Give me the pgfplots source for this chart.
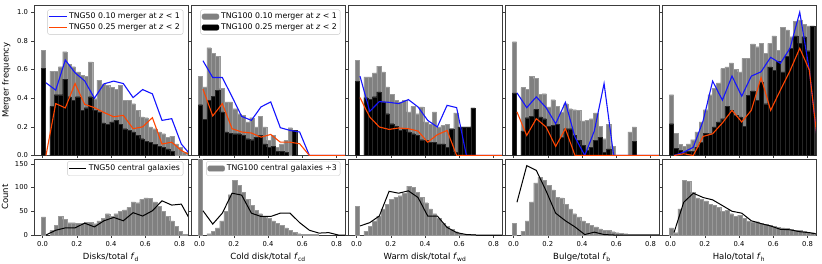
\documentclass[border=0pt]{standalone}
\usepackage{fontspec}
\setmainfont{DejaVu Sans}
\usepackage{pgfplots}
\usepackage{pgfplotstable}
\pgfplotsset{compat=1.18}
\definecolor{mblue}{RGB}{20,20,255}
\definecolor{morange}{RGB}{255,69,0}
\definecolor{mgray}{RGB}{128,128,128}
\definecolor{frm}{RGB}{60,60,60}

% histogram tables: x (bin centre), G = TNG100 0.10 merger freq, B = TNG100 0.25 merger freq, H = TNG100 count
\pgfplotstableread{
x G B H
0.005 0.736 0.607 38
0.030 nan nan nan
0.055 0.589 0.343 10
0.080 0.589 0.425 20
0.105 0.620 0.425 40
0.130 0.724 0.533 33
0.155 0.638 0.410 26
0.180 0.620 0.385 26
0.205 0.584 0.410 25
0.230 0.560 0.315 25
0.255 0.554 0.334 27
0.280 0.654 0.410 27
0.305 0.397 0.315 24
0.330 0.526 0.304 30
0.355 0.500 0.227 35
0.380 0.490 0.217 45
0.405 0.474 0.234 40
0.430 0.460 0.245 45
0.455 0.490 0.217 50
0.480 0.385 0.187 53
0.505 0.385 0.175 58
0.530 0.362 0.164 70
0.555 0.315 0.140 68
0.580 0.269 0.117 75
0.605 0.264 0.100 78
0.630 0.200 0.093 77
0.655 0.187 0.077 70
0.680 0.164 0.063 60
0.705 0.152 0.058 50
0.730 0.128 0.047 40
0.755 0.133 0.030 30
0.780 0.082 nan 18
0.805 0.058 nan 8
0.830 0.023 nan 2
}\hA
\pgfplotstableread{
x G B H
0.005 0.554 0.355 200
0.030 0.479 0.252 nan
0.055 0.752 0.385 3
0.080 0.713 0.413 8
0.105 0.694 0.455 15
0.130 0.467 0.304 30
0.155 0.374 0.164 50
0.180 0.374 0.157 85
0.205 0.327 0.152 115
0.230 0.292 0.152 105
0.255 0.280 0.140 90
0.280 0.234 0.117 75
0.305 0.264 0.110 62
0.330 0.199 0.128 52
0.355 0.273 0.140 45
0.380 0.199 0.082 40
0.405 0.105 0.058 35
0.430 0.140 0.063 30
0.455 0.058 0.030 25
0.480 0.082 0.030 20
0.505 0.105 0.023 15
0.530 0.194 nan 10
0.555 0.175 0.175 6
0.580 nan nan 3
0.605 nan nan 2
0.630 nan nan 1
0.655 nan nan 1
0.680 nan nan 1
}\hB
\pgfplotstableread{
x G B H
0.005 0.666 0.519 60
0.030 nan nan nan
0.055 0.549 0.404 8
0.080 0.549 0.393 18
0.105 0.577 0.410 30
0.130 0.624 0.444 40
0.155 0.584 0.374 55
0.180 0.479 0.292 65
0.205 0.428 0.222 75
0.230 0.385 0.203 80
0.255 0.374 0.175 83
0.280 0.385 0.187 88
0.305 0.304 0.164 103
0.330 0.343 0.152 100
0.355 0.292 0.140 90
0.380 0.339 0.110 80
0.405 0.234 0.105 68
0.430 0.217 0.093 55
0.455 0.304 0.093 45
0.480 0.200 0.082 35
0.505 0.210 0.082 25
0.530 0.217 0.058 18
0.555 0.187 0.187 12
0.580 0.297 0.023 7
0.605 0.200 0.200 4
0.630 0.200 0.200 2
0.655 0.200 0.200 1
0.680 0.332 0.332 1
}\hC
\pgfplotstableread{
x G B H
0.005 0.794 0.437 25
0.030 nan nan nan
0.055 0.474 0.171 8
0.080 0.460 0.264 30
0.105 0.554 0.273 70
0.130 0.537 0.322 110
0.155 0.428 0.269 122
0.180 0.432 0.257 115
0.205 0.339 0.203 105
0.230 0.390 0.210 95
0.255 0.343 0.217 80
0.280 0.304 0.128 78
0.305 0.362 0.187 65
0.330 0.327 0.187 55
0.355 0.320 0.140 45
0.380 0.315 0.105 38
0.405 0.241 0.070 30
0.430 0.245 0.035 25
0.455 0.257 0.058 20
0.480 0.297 0.105 17
0.505 0.203 0.128 13
0.530 0.117 0.023 10
0.555 0.217 0.047 10
0.580 0.063 nan 7
0.605 nan nan 5
0.630 nan nan 4
0.655 nan nan 3
0.680 0.164 nan 2
0.705 0.200 0.100 2
0.730 nan nan 1
0.755 nan nan 1
0.780 nan nan 1
0.805 nan nan 1
0.830 nan nan 1
}\hD
\pgfplotstableread{
x G B H
0.005 0.425 0.222 15
0.030 0.157 0.051 5
0.055 0.077 0.035 55
0.080 0.063 0.023 115
0.105 0.082 0.030 113
0.130 0.110 0.030 90
0.155 0.164 0.058 78
0.180 0.234 0.093 75
0.205 0.320 0.157 72
0.230 0.425 0.152 65
0.255 0.467 0.199 62
0.280 0.507 0.234 58
0.305 0.607 0.257 50
0.330 0.619 0.343 52
0.355 0.647 0.315 45
0.380 0.600 0.280 40
0.405 0.584 0.269 42
0.430 0.678 0.203 35
0.455 0.678 0.421 30
0.480 0.778 0.451 28
0.505 0.759 0.386 28
0.530 0.783 0.514 25
0.555 0.713 0.362 22
0.580 0.783 0.619 20
0.605 0.834 0.596 18
0.630 0.736 0.659 16
0.655 0.895 0.584 15
0.680 0.876 0.694 14
0.705 0.829 0.748 12
0.730 0.935 0.834 10
0.755 0.946 0.783 10
0.780 0.916 0.829 8
0.805 0.904 0.731 6
0.830 0.900 0.904 5
}\hE

% line tables: TNG50 0.10 (blue), TNG50 0.25 (orange), TNG50 centrals (black)
\pgfplotstableread{
x blue orange cen
0.020 0.507 0.000 0
0.077 0.456 0.362 10
0.133 0.666 0.332 15
0.190 0.577 0.502 15
0.246 0.521 0.357 25
0.303 0.400 0.334 17
0.359 0.500 0.300 30
0.416 0.519 0.270 37
0.472 0.502 0.280 30
0.529 0.404 0.187 47
0.585 0.460 0.200 40
0.642 0.430 0.264 51
0.698 0.245 0.080 72
0.755 0.257 0.093 63
0.811 0.080 0.035 65
0.868 0.000 0.000 28
}\lA
\pgfplotstableread{
x blue orange cen
0.020 0.661 0.463 51
0.077 0.544 0.276 23
0.133 0.544 0.362 46
0.190 0.410 0.187 88
0.246 0.273 0.164 84
0.303 0.245 0.157 46
0.359 0.339 0.128 39
0.416 0.374 0.147 39
0.472 0.194 0.093 46
0.529 0.175 0.093 46
0.585 0.164 0.082 26
0.642 0.000 0.000 10
0.698 0.000 0.000 4
0.755 0.000 0.000 5
0.811 0.000 0.000 0
0.868 0.000 0.000 0
}\lB
\pgfplotstableread{
x blue orange cen
0.020 0.554 0.404 19
0.077 0.308 0.269 26
0.133 0.376 0.199 40
0.190 0.371 0.182 92
0.246 0.362 0.192 88
0.303 0.390 0.187 93
0.359 0.339 0.171 79
0.416 0.245 0.093 40
0.472 0.199 0.145 40
0.529 0.350 0.175 16
0.585 0.334 0.000 5
0.642 0.000 0.000 1
0.698 0.000 0.000 0
0.755 0.000 0.000 0
0.811 0.000 0.000 0
0.868 0.000 0.000 0
}\lC
\pgfplotstableread{
x blue orange cen
0.020 0.437 0.304 69
0.077 0.334 0.140 146
0.133 0.409 0.257 136
0.190 0.334 0.199 93
0.246 0.222 0.063 46
0.303 0.371 0.187 30
0.359 0.128 0.000 17
0.416 0.000 0.000 1
0.472 0.171 0.000 6
0.529 0.502 0.000 1
0.585 0.000 0.000 0
0.642 0.000 0.000 0
0.698 0.000 0.000 0
0.755 0.000 0.000 0
0.811 0.000 0.000 0
0.868 0.000 0.000 0
}\lD
\pgfplotstableread{
x blue orange cen
0.020 0.000 0.000 5
0.077 0.023 0.012 69
0.133 0.058 0.000 88
0.190 0.241 0.133 79
0.246 0.519 0.152 74
0.303 0.386 0.227 62
0.359 0.554 0.315 50
0.416 0.414 0.234 46
0.472 0.554 0.315 30
0.529 0.584 0.544 24
0.585 0.685 0.315 19
0.642 0.643 0.456 12
0.698 0.748 0.591 11
0.755 1.000 0.748 7
0.811 0.596 0.596 5
0.868 0.000 0.000 1
}\lE

\pgfplotsset{
  panel/.style={
    scale only axis, width=154pt,
    xmin=-0.05, xmax=0.85,
    xtick={0,0.2,0.4,0.6,0.8},
    tick align=outside, tick pos=left,
    major tick length=2.5pt,
    every tick/.style={frm, line width=0.5pt},
    axis line style={frm, line width=0.6pt},
    tick label style={font=\fontsize{6.8}{7}\selectfont, /pgf/number format/assume math mode=true},
    label style={font=\fontsize{8.5}{9}\selectfont},
    legend cell align=left,
    legend style={font=\fontsize{7.8}{8.5}\selectfont, draw=black!22, rounded corners=2pt,
      fill=white, inner sep=1.3pt,
      row sep=-0.5pt, at={(0.97,0.97)}, anchor=north east},
  },
  toppanel/.style={panel, height=150.5pt, ymin=0, ymax=1.05,
    ytick={0,0.2,0.4,0.6,0.8,1.0}, xticklabels={},
    yticklabel style={/pgf/number format/fixed, /pgf/number format/fixed zerofill, /pgf/number format/precision=1}},
  botpanel/.style={panel, height=76pt, ymin=0, ymax=160, ytick={0,50,100,150},
    xticklabel style={/pgf/number format/fixed, /pgf/number format/fixed zerofill, /pgf/number format/precision=1}},
  gbar/.style={ybar, bar width=0.025, bar shift=0pt, fill=mgray, draw=mgray!80!white, line width=0.15pt, area legend},
  kbar/.style={ybar, bar width=0.025, bar shift=0pt, fill=black, draw=black!85!white, line width=0.15pt, area legend},
  bl/.style={mblue, line width=1.1pt},
  ol/.style={morange, line width=1.1pt},
  cl/.style={black, line width=1.0pt},
}

\begin{document}
\begin{tikzpicture}
\useasboundingbox (0,0) rectangle (822pt,-263pt);

% ---------- top row ----------
\begin{axis}[toppanel, at={(34pt,-5pt)}, anchor=north west, ylabel={Merger frequency}]
  \addplot[gbar, forget plot] table[x=x,y=G]{\hA};
  \addplot[kbar, forget plot] table[x=x,y=B]{\hA};
  \addplot[bl] table[x=x,y=blue]{\lA};
  \addlegendentry{TNG50 0.10 merger at \textit{z} < 1}
  \addplot[ol] table[x=x,y=orange]{\lA};
  \addlegendentry{TNG50 0.25 merger at \textit{z} < 2}
\end{axis}
\begin{axis}[toppanel, at={(191pt,-5pt)}, anchor=north west, yticklabels={}]
  \addplot[gbar] table[x=x,y=G]{\hB};
  \addlegendentry{TNG100 0.10 merger at \textit{z} < 1}
  \addplot[kbar] table[x=x,y=B]{\hB};
  \addlegendentry{TNG100 0.25 merger at \textit{z} < 2}
  \addplot[bl, forget plot] table[x=x,y=blue]{\lB};
  \addplot[ol, forget plot] table[x=x,y=orange]{\lB};
\end{axis}
\begin{axis}[toppanel, at={(348pt,-5pt)}, anchor=north west, yticklabels={}]
  \addplot[gbar] table[x=x,y=G]{\hC};
  \addplot[kbar] table[x=x,y=B]{\hC};
  \addplot[bl] table[x=x,y=blue]{\lC};
  \addplot[ol] table[x=x,y=orange]{\lC};
\end{axis}
\begin{axis}[toppanel, at={(505pt,-5pt)}, anchor=north west, yticklabels={}]
  \addplot[gbar] table[x=x,y=G]{\hD};
  \addplot[kbar] table[x=x,y=B]{\hD};
  \addplot[bl] table[x=x,y=blue]{\lD};
  \addplot[ol] table[x=x,y=orange]{\lD};
\end{axis}
\begin{axis}[toppanel, at={(662pt,-5pt)}, anchor=north west, yticklabels={}]
  \addplot[gbar] table[x=x,y=G]{\hE};
  \addplot[kbar] table[x=x,y=B]{\hE};
  \addplot[bl] table[x=x,y=blue]{\lE};
  \addplot[ol] table[x=x,y=orange]{\lE};
\end{axis}

% ---------- bottom row ----------
\begin{axis}[botpanel, at={(34pt,-159pt)}, anchor=north west, ylabel={Count},
  xlabel={Disks/total \textit{f}\textsubscript{d}}]
  \addplot[gbar, forget plot] table[x=x,y=H]{\hA};
  \addplot[cl] table[x=x,y=cen]{\lA};
  \addlegendentry{TNG50 central galaxies}
\end{axis}
\begin{axis}[botpanel, at={(191pt,-159pt)}, anchor=north west, yticklabels={},
  xlabel={Cold disk/total \textit{f}\textsubscript{cd}}]
  \addplot[gbar] table[x=x,y=H]{\hB};
  \addlegendentry{TNG100 central galaxies ÷3}
  \addplot[cl, forget plot] table[x=x,y=cen]{\lB};
\end{axis}
\begin{axis}[botpanel, at={(348pt,-159pt)}, anchor=north west, yticklabels={},
  xlabel={Warm disk/total \textit{f}\textsubscript{wd}}]
  \addplot[gbar] table[x=x,y=H]{\hC};
  \addplot[cl] table[x=x,y=cen]{\lC};
\end{axis}
\begin{axis}[botpanel, at={(505pt,-159pt)}, anchor=north west, yticklabels={},
  xlabel={Bulge/total \textit{f}\textsubscript{b}}]
  \addplot[gbar] table[x=x,y=H]{\hD};
  \addplot[cl] table[x=x,y=cen]{\lD};
\end{axis}
\begin{axis}[botpanel, at={(662pt,-159pt)}, anchor=north west, yticklabels={},
  xlabel={Halo/total \textit{f}\textsubscript{h}}]
  \addplot[gbar] table[x=x,y=H]{\hE};
  \addplot[cl] table[x=x,y=cen]{\lE};
\end{axis}
\end{tikzpicture}
\end{document}
